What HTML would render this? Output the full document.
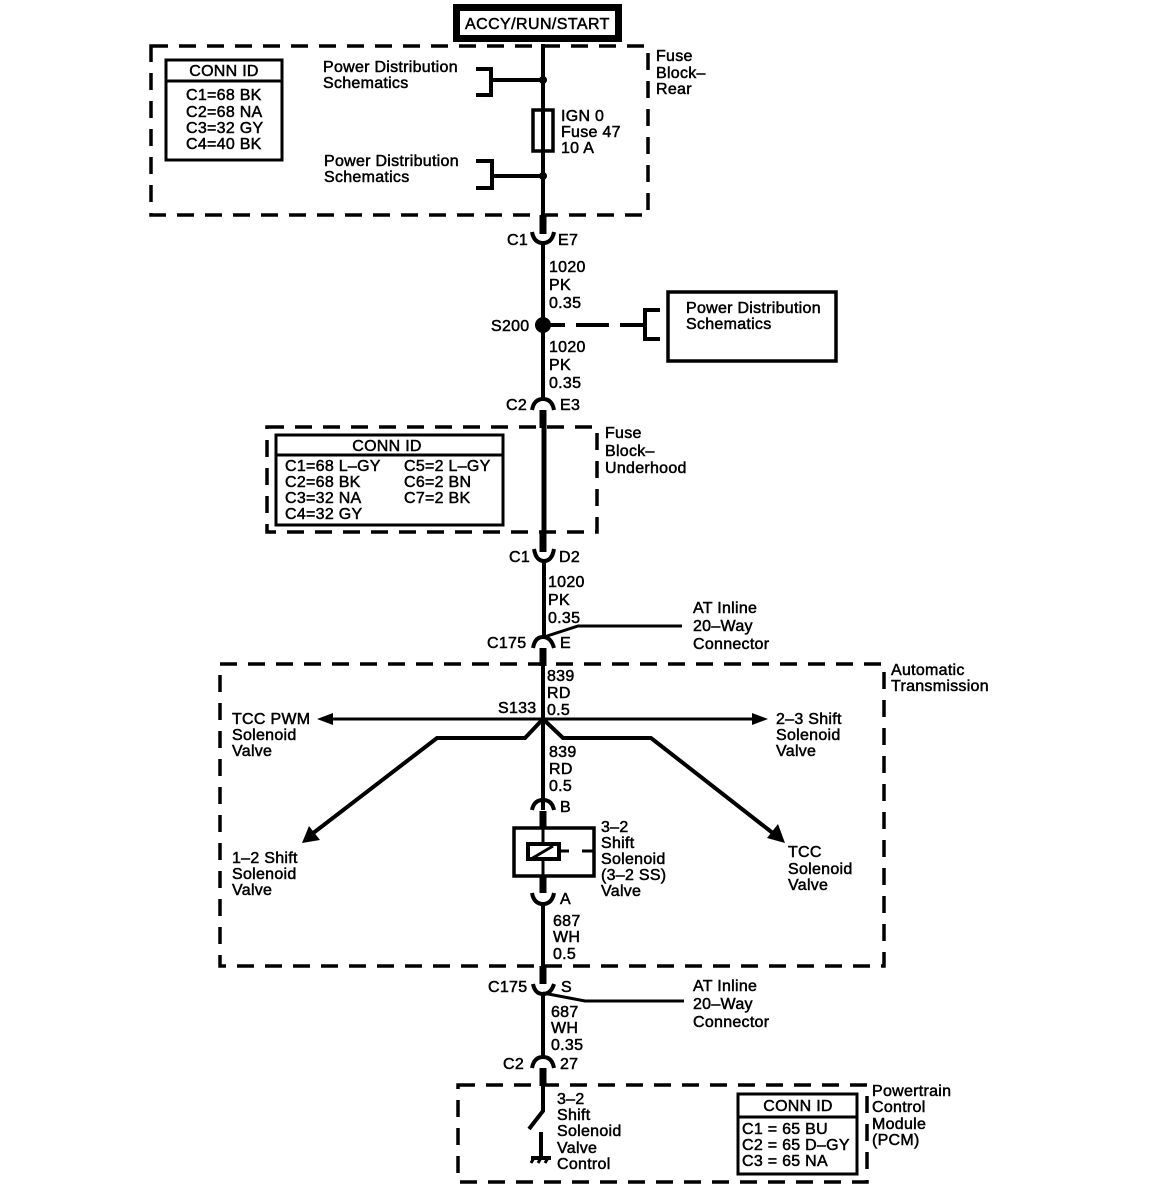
<!DOCTYPE html>
<html><head><meta charset="utf-8"><style>
html,body{margin:0;padding:0;background:#fff}
svg{display:block}
text{font-family:"Liberation Sans",sans-serif;font-size:16px;fill:#000;stroke:#000;stroke-width:.5px;letter-spacing:.28px}
.m{text-anchor:middle}
.d{fill:none;stroke:#000;stroke-width:3.5;stroke-dasharray:17 11}
.l{fill:none;stroke:#000;stroke-width:3}
.w{fill:none;stroke:#000;stroke-width:4}
.t{fill:none;stroke:#000;stroke-width:7}
</style></head><body>
<svg width="1152" height="1202" viewBox="0 0 1152 1202" xmlns="http://www.w3.org/2000/svg">
<rect x="456.500" y="7.500" width="162" height="31" fill="#fff" stroke="#000" stroke-width="7"/>
<text x="465" y="29" style="letter-spacing:.42px">ACCY/RUN/START</text>
<rect class="d" x="151" y="46" width="497" height="169"/>
<rect class="d" x="267" y="427" width="330" height="105"/>
<rect class="d" x="220" y="664" width="664" height="302"/>
<rect class="d" x="458" y="1085" width="409" height="97"/>

<rect x="166" y="60" width="116" height="100" fill="#fff" stroke="#000" stroke-width="3"/>
<path class="l" d="M166 81H282"/>
<text class="m" x="224" y="76">CONN ID</text>
<text x="186" y="100">C1=68 BK</text>
<text x="186" y="117">C2=68 NA</text>
<text x="186" y="133">C3=32 GY</text>
<text x="186" y="149">C4=40 BK</text>

<text x="323" y="72">Power Distribution</text>
<text x="323" y="88">Schematics</text>
<text x="324" y="166">Power Distribution</text>
<text x="324" y="182">Schematics</text>
<path class="w" d="M476 69H491V95H476M491 80H543M476 161H492V188H476M492 176H543"/>
<circle cx="543" cy="80" r="4"/><circle cx="543" cy="176" r="4"/>
<path class="w" d="M543 44V232"/>
<rect x="533" y="110" width="20" height="41" fill="none" stroke="#000" stroke-width="3.500"/>
<path class="t" d="M543 215V234"/>
<text x="561" y="121">IGN 0</text>
<text x="561" y="137">Fuse 47</text>
<text x="561" y="153">10 A</text>
<text x="656" y="61">Fuse</text>
<text x="656" y="78">Block–</text>
<text x="656" y="94">Rear</text>

<path class="w" d="M532 232Q534 243 543 243Q552 243 554 232"/>
<text x="507" y="245">C1</text><text x="558" y="245">E7</text>
<path class="w" d="M543 243V398"/>
<text x="549" y="272">1020</text><text x="549" y="290">PK</text><text x="549" y="308">0.35</text>
<circle cx="543" cy="325" r="8"/>
<text x="491" y="331">S200</text>
<path class="w" d="M550 325H565M576 325H609M620 325H645"/>
<path class="w" d="M660 310H645V339H660"/>
<text x="549" y="352">1020</text><text x="549" y="370">PK</text><text x="549" y="388">0.35</text>
<rect x="668" y="292" width="168" height="69" fill="none" stroke="#000" stroke-width="3.500"/>
<text x="686" y="313">Power Distribution</text>
<text x="686" y="329">Schematics</text>

<path class="w" d="M532 410Q534 399 543 399Q552 399 554 410"/>
<text x="506" y="410">C2</text><text x="560" y="410">E3</text>
<path class="t" d="M543 410V428"/><path style="fill:none;stroke:#000;stroke-width:5" d="M544 428V532"/><path class="t" d="M543 532V552"/>
<text x="605" y="438">Fuse</text><text x="605" y="456">Block–</text><text x="605" y="473">Underhood</text>

<rect x="276" y="435" width="227" height="90" fill="#fff" stroke="#000" stroke-width="3"/>
<path class="l" d="M276 455H503"/>
<text class="m" x="387" y="451">CONN ID</text>
<text x="285" y="471">C1=68 L–GY</text><text x="285" y="487">C2=68 BK</text><text x="285" y="503">C3=32 NA</text><text x="285" y="519">C4=32 GY</text>
<text x="404" y="471">C5=2 L–GY</text><text x="404" y="487">C6=2 BN</text><text x="404" y="503">C7=2 BK</text>

<path class="w" d="M534 549Q536 561 544 561Q552 561 554 549"/>
<text x="509" y="562">C1</text><text x="559" y="562">D2</text>
<path class="w" d="M544 561V638"/>
<text x="548" y="587">1020</text><text x="548" y="605">PK</text><text x="548" y="623">0.35</text>
<path class="l" d="M544 637L578 626H682"/>
<text x="693" y="613">AT Inline</text><text x="693" y="631">20–Way</text><text x="693" y="649">Connector</text>
<path class="w" d="M533 648Q535 637 543 637Q551 637 554 648"/>
<text x="487" y="648">C175</text><text x="560" y="648">E</text>
<path class="t" d="M543 648V666"/><path class="w" d="M543 666V810"/>
<text x="547" y="681">839</text><text x="547" y="698">RD</text><text x="547" y="715">0.5</text>
<text x="498" y="713">S133</text>
<path class="l" d="M330 719H755"/>
<path d="M317 719L333 713V725Z"/><path d="M768 719L752 713V725Z"/>
<text x="232" y="724">TCC PWM</text><text x="232" y="740">Solenoid</text><text x="232" y="756">Valve</text>
<text x="776" y="724">2–3 Shift</text><text x="776" y="740">Solenoid</text><text x="776" y="756">Valve</text>
<path class="w" d="M543 719L525 738H437L312 834"/>
<path class="w" d="M543 719L563 738H651L774 834"/>
<path d="M302 843L309 826L320 840Z"/><path d="M785 843L767 838L778 824Z"/>
<text x="232" y="863">1–2 Shift</text><text x="232" y="879">Solenoid</text><text x="232" y="895">Valve</text>
<text x="788" y="857">TCC</text><text x="788" y="874">Solenoid</text><text x="788" y="890">Valve</text>
<text x="549" y="757">839</text><text x="549" y="774">RD</text><text x="549" y="791">0.5</text>
<path class="w" d="M532 810Q534 800 543 800Q552 800 554 810"/>
<text x="560" y="812">B</text>
<path class="t" d="M543 811V828"/>
<rect x="514" y="828" width="80" height="48" fill="none" stroke="#000" stroke-width="3.500"/>
<path class="l" d="M543 828V843M543 860V876"/>
<rect x="528" y="844" width="31" height="15" fill="#fff" stroke="#000" stroke-width="4"/>
<path class="l" d="M531 859L553 846"/>
<path class="l" d="M559 851H569M582 851H593"/>
<text x="601" y="832">3–2</text><text x="601" y="848">Shift</text><text x="601" y="864">Solenoid</text><text x="601" y="880">(3–2 SS)</text><text x="601" y="896">Valve</text>
<path class="t" d="M543 876V893"/>
<path class="w" d="M532 893Q534 904 543 904Q552 904 554 893"/>
<text x="560" y="904">A</text>
<path class="w" d="M543 904V966"/><path class="t" d="M543 966V984"/>
<text x="553" y="926">687</text><text x="553" y="942">WH</text><text x="553" y="959">0.5</text>
<text x="891" y="675">Automatic</text><text x="891" y="691">Transmission</text>

<path class="w" d="M533 984Q535 994 543 994Q551 994 554 984"/>
<text x="488" y="992">C175</text><text x="561" y="992">S</text>
<path class="l" d="M543 993L585 1001H684"/>
<text x="693" y="991">AT Inline</text><text x="693" y="1009">20–Way</text><text x="693" y="1027">Connector</text>
<path class="w" d="M543 994V1057"/>
<text x="551" y="1017">687</text><text x="551" y="1033">WH</text><text x="551" y="1050">0.35</text>
<path class="w" d="M532 1068Q534 1057 543 1057Q552 1057 554 1068"/>
<text x="503" y="1069">C2</text><text x="560" y="1069">27</text>
<path class="t" d="M543 1068V1086"/><path class="w" d="M543 1086V1111L529 1129"/>
<path class="w" d="M541 1132V1157"/>
<path class="w" d="M531 1158H551"/>
<path class="l" d="M534 1158L531 1163M541 1158L538 1163M548 1158L545 1163"/>
<text x="557" y="1104">3–2</text><text x="557" y="1120">Shift</text><text x="557" y="1136">Solenoid</text><text x="557" y="1153">Valve</text><text x="557" y="1169">Control</text>

<rect x="738" y="1094" width="119" height="80" fill="#fff" stroke="#000" stroke-width="3"/>
<path class="l" d="M738 1117H857"/>
<text class="m" x="798" y="1111">CONN ID</text>
<text x="742" y="1134">C1 = 65 BU</text><text x="742" y="1150">C2 = 65 D–GY</text><text x="742" y="1166">C3 = 65 NA</text>
<text x="872" y="1096">Powertrain</text><text x="872" y="1112">Control</text><text x="872" y="1129">Module</text><text x="872" y="1145">(PCM)</text>
</svg>
</body></html>
